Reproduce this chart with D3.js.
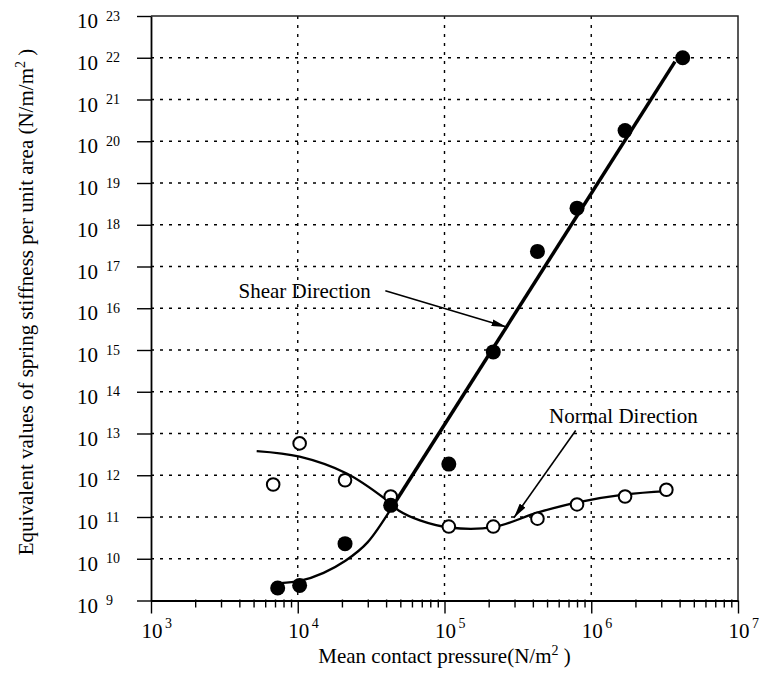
<!DOCTYPE html>
<html>
<head>
<meta charset="utf-8">
<script src="https://cdn.jsdelivr.net/npm/d3@7"></script>
<style>
    body { margin: 0; background: #fff; }
    svg { display: block; font-family: "Liberation Serif", "Times New Roman", serif; }
</style>
</head>
<body>
<svg id="chart" width="760" height="673"></svg>
<script>
// decade ticks (exponents of ten)
const xExponents = [3, 4, 5, 6, 7];
const yExponents = [9, 10, 11, 12, 13, 14, 15, 16, 17, 18, 19, 20, 21, 22, 23];
const minorSteps = [2, 3, 4, 5, 6, 7, 8, 9];

// measured points: filled = shear, open = normal
const shearPressure  = [7.3e3, 1.03e4, 2.1e4, 4.3e4, 1.07e5, 2.15e5, 4.3e5, 8.0e5, 1.7e6, 4.2e6];
const shearStiffness = [2.0e9, 2.3e9, 2.3e10, 1.9e11, 1.85e12, 9.0e14, 2.3e17, 2.5e18, 1.8e20, 1.0e22];
const normalPressure  = [6.8e3, 1.03e4, 2.1e4, 4.3e4, 1.07e5, 2.15e5, 4.3e5, 8.0e5, 1.7e6, 3.25e6];
const normalStiffness = [6.0e11, 5.8e12, 7.6e11, 3.1e11, 5.9e10, 5.9e10, 9.1e10, 2.0e11, 3.1e11, 4.5e11];

// fitted curves
const shearCurvePressure  = [7.6e3, 1.03e4, 1.5e4, 2.1e4, 3.0e4, 4.4e4];
const shearCurveStiffness = [2.6e9, 2.95e9, 4.6e9, 8.8e9, 2.5e10, 1.74e11];
const shearLinePressure  = [4.4e4, 3.72e6];
const shearLineStiffness = [1.74e11, 8.1e21];
const normalCurvePressure  = [5.25e3, 1.03e4, 2.14e4, 3.95e4, 4.9e4, 6.8e4, 1.08e5, 2.16e5, 4.35e5, 8.06e5, 1.71e6, 3.27e6];
const normalCurveStiffness = [3.8e12, 2.8e12, 1.12e12, 2.7e11, 1.41e11, 8.3e10, 5.6e10, 5.75e10, 1.29e11, 2.24e11, 3.47e11, 4.17e11];

// annotations, given as log10 coordinates
const notes = [
    { text: "Shear Direction",  at: [3.596, 16.24], from: [4.597, 16.42], to: [5.423, 15.55] },
    { text: "Normal Direction", at: [5.712, 13.26], from: [5.894, 13.07], to: [5.473, 10.98] }
];

const svg = d3.select("#chart");
const m = { left: 151, right: 738, top: 16, bottom: 600.5 };

const x = d3.scaleLog().domain([1e3, 1e7]).range([m.left, m.right]);
const y = d3.scaleLog().domain([1e9, 1e23]).range([m.bottom, m.top]);
const pow = e => Math.pow(10, e);

// grid
const grid = svg.append("g").attr("stroke", "#000").attr("stroke-width", 1.4).attr("stroke-dasharray", "3,6");
grid.selectAll(".h").data(yExponents.slice(1, -1)).join("line").attr("class", "h")
    .attr("x1", m.left).attr("x2", m.right)
    .attr("y1", d => y(pow(d))).attr("y2", d => y(pow(d)));
grid.selectAll(".v").data(xExponents.slice(1, -1)).join("line").attr("class", "v")
    .attr("y1", m.top).attr("y2", m.bottom)
    .attr("x1", d => x(pow(d))).attr("x2", d => x(pow(d)));

// frame top/right
svg.append("path")
    .attr("d", `M${m.left},${m.top}H${m.right}V${m.bottom}`)
    .attr("fill", "none").attr("stroke", "#222").attr("stroke-width", 1.5);

// axes
const minorX = [];
xExponents.slice(0, -1).forEach(e => minorSteps.forEach(k => minorX.push(k * pow(e))));

svg.append("g").attr("transform", `translate(0,${m.bottom})`)
    .call(d3.axisBottom(x).tickValues(xExponents.map(pow)).tickSize(13).tickSizeOuter(0).tickFormat(""));
const xMinor = svg.append("g").attr("transform", `translate(0,${m.bottom - 1})`)
    .call(d3.axisBottom(x).tickValues(minorX).tickSize(8).tickFormat(""));
xMinor.select(".domain").remove();
svg.append("g").attr("transform", `translate(${m.left},0)`)
    .call(d3.axisLeft(y).tickValues(yExponents.map(pow)).tickSize(14).tickSizeOuter(0).tickFormat(""));
svg.selectAll(".domain").attr("stroke", "#000").attr("stroke-width", 1.8);
svg.selectAll(".tick line").attr("stroke", "#000").attr("stroke-width", 1.4);

// tick labels: 10 with raised exponent
const yl = svg.append("g").attr("fill", "#000");
yExponents.forEach(e => {
    const py = y(pow(e));
    yl.append("text").attr("x", m.left - 53).attr("y", py + 12).attr("text-anchor", "end")
        .attr("font-size", 21).text("10");
    yl.append("text").attr("x", m.left - 45).attr("y", py + 4.5)
        .attr("font-size", 14).text(e);
});
const xl = svg.append("g").attr("fill", "#000");
xExponents.forEach(e => {
    const px = x(pow(e));
    xl.append("text").attr("x", px - 9.5).attr("y", m.bottom + 37.5).attr("font-size", 21).text("10");
    xl.append("text").attr("x", px + 14).attr("y", m.bottom + 27.5).attr("font-size", 14).text(e);
});

// axis titles
const xt = svg.append("text").attr("x", (m.left + m.right) / 2).attr("y", 663)
    .attr("text-anchor", "middle").attr("font-size", 21);
xt.append("tspan").text("Mean contact pressure(N/m");
xt.append("tspan").attr("font-size", 14).attr("dy", -8).text("2");
xt.append("tspan").attr("dy", 8).text(" )");

const yt = svg.append("text").attr("transform", "translate(33,302) rotate(-90)")
    .attr("text-anchor", "middle").attr("font-size", 21);
yt.append("tspan").text("Equivalent values of spring stiffness per unit area (N/m/m");
yt.append("tspan").attr("font-size", 14).attr("dy", -8).text("2");
yt.append("tspan").attr("dy", 8).text(" )");

// curves
const line = d3.line().x(d => x(d[0])).y(d => y(d[1]));
const smooth = d3.line().x(d => x(d[0])).y(d => y(d[1])).curve(d3.curveMonotoneX);
const curve = d3.line().x(d => x(d[0])).y(d => y(d[1])).curve(d3.curveCatmullRom);

svg.append("path").datum(d3.zip(shearCurvePressure, shearCurveStiffness))
    .attr("d", smooth).attr("fill", "none").attr("stroke", "#000").attr("stroke-width", 2.3);
svg.append("path").datum(d3.zip(shearLinePressure, shearLineStiffness))
    .attr("d", line).attr("fill", "none").attr("stroke", "#000").attr("stroke-width", 3.5);
svg.append("path").datum(d3.zip(normalCurvePressure, normalCurveStiffness))
    .attr("d", curve).attr("fill", "none").attr("stroke", "#000").attr("stroke-width", 2.3);

// points
svg.append("g").selectAll("circle").data(d3.zip(normalPressure, normalStiffness)).join("circle")
    .attr("cx", d => x(d[0])).attr("cy", d => y(d[1])).attr("r", 6.3)
    .attr("fill", "#fff").attr("stroke", "#000").attr("stroke-width", 2);
svg.append("g").selectAll("circle").data(d3.zip(shearPressure, shearStiffness)).join("circle")
    .attr("cx", d => x(d[0])).attr("cy", d => y(d[1])).attr("r", 7.5).attr("fill", "#000");

// annotations
svg.append("defs").append("marker").attr("id", "head")
    .attr("viewBox", "0 0 15 7").attr("refX", 15).attr("refY", 3.5)
    .attr("markerWidth", 15).attr("markerHeight", 7).attr("markerUnits", "userSpaceOnUse")
    .attr("orient", "auto")
    .append("path").attr("d", "M0,0L15,3.5L0,7Z").attr("fill", "#000");

const ann = svg.append("g");
notes.forEach(n => {
    ann.append("text").attr("x", x(pow(n.at[0]))).attr("y", y(pow(n.at[1])))
        .attr("font-size", 21).attr("fill", "#000").text(n.text);
    ann.append("line")
        .attr("x1", x(pow(n.from[0]))).attr("y1", y(pow(n.from[1])))
        .attr("x2", x(pow(n.to[0]))).attr("y2", y(pow(n.to[1])))
        .attr("stroke", "#000").attr("stroke-width", 1.6).attr("marker-end", "url(#head)");
});
</script>
</body>
</html>
